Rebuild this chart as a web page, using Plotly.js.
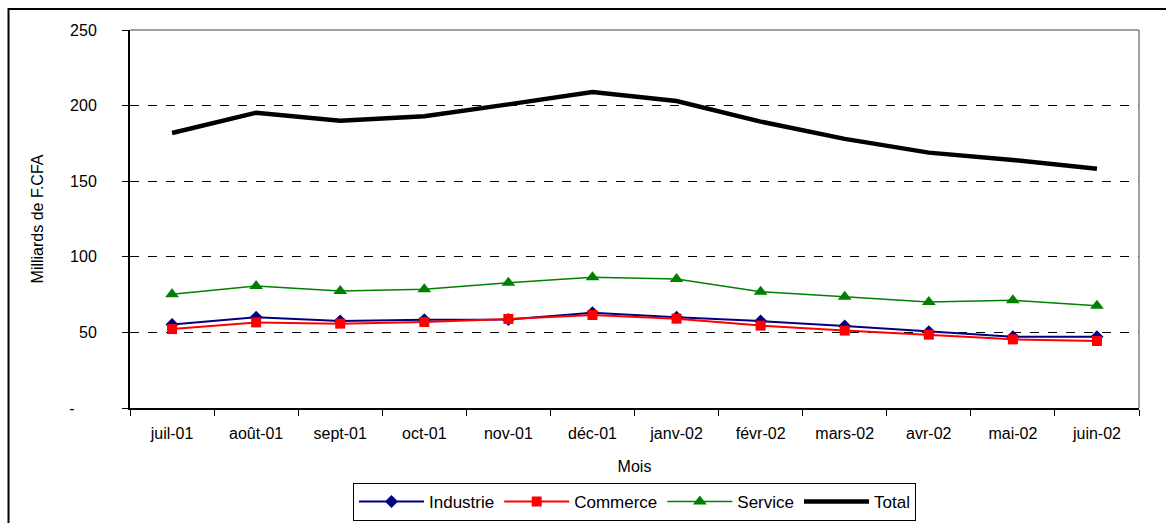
<!DOCTYPE html>
<html>
<head>
<meta charset="utf-8">
<script src="https://cdn.plot.ly/plotly-3.0.1.min.js"></script>
<style>
html,body{margin:0;padding:0;background:#fff;}
#chart{width:1166px;height:523px;}
</style>
</head>
<body>
<div id="chart"></div>
<script>
// Data
const months = ["juil-01","août-01","sept-01","oct-01","nov-01","déc-01","janv-02","févr-02","mars-02","avr-02","mai-02","juin-02"];
const industrie = [55.3, 60.0, 57.5, 58.4, 58.6, 63.0, 60.0, 57.5, 54.2, 50.5, 47.2, 47.2];
const commerce  = [52.2, 56.6, 55.8, 56.9, 58.9, 61.5, 59.1, 54.5, 51.2, 48.5, 45.4, 44.3];
const service   = [75.2, 80.7, 77.4, 78.5, 82.9, 86.4, 85.3, 76.9, 73.6, 70.1, 71.2, 67.7];
const total     = [181.9, 195.3, 190.0, 193.0, 200.8, 209.0, 203.0, 189.4, 178.0, 168.9, 164.0, 158.3];
const yTickVals = [0, 50, 100, 150, 200, 250];
const yTickText = ["-\u00a0\u00a0\u00a0\u00a0\u00a0", "50", "100", "150", "200", "250"];

const font = {family: "Liberation Sans, Arial, sans-serif", size: 16, color: "#000"};

const traces = [
  {x: months, y: industrie, name: "Industrie", type: "scatter", mode: "lines+markers",
   line: {color: "#000080", width: 2}, marker: {symbol: "diamond", size: 10, color: "#000080"}},
  {x: months, y: commerce, name: "Commerce", type: "scatter", mode: "lines+markers",
   line: {color: "#ff0000", width: 2}, marker: {symbol: "square", size: 10, color: "#ff0000"}},
  {x: months, y: service, name: "Service", type: "scatter", mode: "lines+markers",
   line: {color: "#008000", width: 1.5}, marker: {symbol: "triangle-up", size: 12, color: "#008000"}},
  {x: months, y: total, name: "Total", type: "scatter", mode: "lines",
   line: {color: "#000000", width: 4.5}}
];

const layout = {
  width: 1166, height: 523,
  margin: {l: 130, r: 27, t: 30, b: 115, autoexpand: false},
  paper_bgcolor: "#fff", plot_bgcolor: "#fff",
  font: font,
  showlegend: true,
  legend: {orientation: "h", x: 0.5, xanchor: "center", y: -0.198, yanchor: "top",
           bordercolor: "#000", borderwidth: 1, font: {family: font.family, size: 17, color: "#000"},
           itemwidth: 65, tracegroupgap: 0},
  xaxis: {
    type: "category", range: [-0.5, 11.5], automargin: false,
    showline: true, linecolor: "#000", linewidth: 2,
    ticks: "outside", ticklen: 6, tickcolor: "#000", tickwidth: 1,
    tickson: "boundaries", showgrid: false, zeroline: false,
    tickfont: font, ticklabelstandoff: 10,
    title: {text: "Mois", font: font, standoff: 20}
  },
  yaxis: {
    range: [0, 250], tickvals: yTickVals, ticktext: yTickText, automargin: false,
    showline: true, linecolor: "#000", linewidth: 2,
    ticks: "outside", ticklen: 6, tickcolor: "#000", tickwidth: 1,
    showgrid: true, gridcolor: "#000", gridwidth: 1, griddash: "dash",
    zeroline: false, tickfont: font, ticklabelstandoff: 22,
    title: {text: "Milliards de F.CFA", font: font, standoff: 22}
  },
  shapes: [
    {type: "line", xref: "paper", yref: "paper", x0: 0, x1: 1, y0: 1, y1: 1,
     line: {color: "#808080", width: 1.5}, layer: "above"},
    {type: "line", xref: "paper", yref: "paper", x0: 1, x1: 1, y0: 0, y1: 1,
     line: {color: "#808080", width: 1.5}, layer: "above"},
    {type: "rect", xref: "paper", yref: "paper", x0: -0.1204, x1: 1.1, y0: -0.35, y1: 1.0556,
     line: {color: "#000", width: 2}, fillcolor: "rgba(0,0,0,0)", layer: "above"}
  ]
};

Plotly.newPlot("chart", traces, layout, {displayModeBar: false, staticPlot: true});
</script>
</body>
</html>
